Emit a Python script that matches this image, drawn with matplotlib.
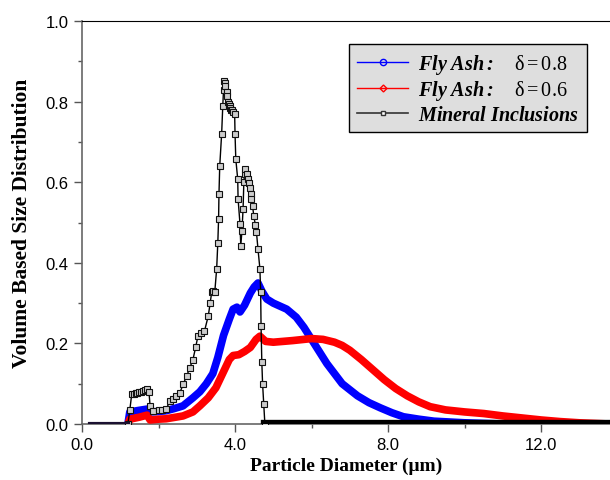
import matplotlib.pyplot as plt
import numpy as np

plt.rcParams['mathtext.fontset'] = 'custom'
plt.rcParams['mathtext.rm'] = 'Liberation Serif'
plt.rcParams['mathtext.it'] = 'Liberation Serif:italic'
plt.rcParams['mathtext.bf'] = 'Liberation Serif:bold'
plt.rcParams['mathtext.bfit'] = 'Liberation Serif:italic:bold'

# fly ash, delta = 0.8
x_b = [1.2, 1.25, 1.5, 1.7, 1.78, 2.0, 2.2, 2.4, 2.64, 2.9, 3.08, 3.25, 3.42, 3.55, 3.7, 3.85,
       3.95, 4.05, 4.13, 4.25, 4.4, 4.5, 4.6, 4.7, 4.83, 5.0, 5.35, 5.6, 5.8, 6.0, 6.2, 6.4,
       6.6, 6.8, 7.0, 7.2, 7.5, 7.8, 8.1, 8.4, 8.8, 9.2, 10.0, 11.0, 12.0, 13.8]
y_b = [0.0, 0.03, 0.034, 0.037, 0.03, 0.031, 0.033, 0.038, 0.045, 0.065, 0.08, 0.1, 0.125, 0.165,
       0.22, 0.26, 0.285, 0.29, 0.278, 0.295, 0.325, 0.34, 0.35, 0.33, 0.31, 0.3, 0.285, 0.265,
       0.24, 0.21, 0.18, 0.15, 0.125, 0.1, 0.085, 0.07, 0.053, 0.04, 0.028, 0.018, 0.012, 0.007,
       0.003, 0.0, 0.0, 0.0]

# fly ash, delta = 0.6
x_r = [1.2, 1.25, 1.5, 1.7, 1.78, 2.0, 2.2, 2.64, 2.9, 3.08, 3.3, 3.5, 3.7, 3.85, 3.95, 4.1,
       4.25, 4.4, 4.55, 4.65, 4.8, 5.0, 5.5, 6.0, 6.3, 6.6, 6.8, 7.0, 7.3, 7.6, 7.9, 8.2, 8.5,
       8.8, 9.1, 9.5, 10.0, 10.5, 11.0, 11.5, 12.0, 12.5, 13.0, 13.8]
y_r = [0.0, 0.012, 0.017, 0.022, 0.01, 0.012, 0.013, 0.02, 0.03, 0.045, 0.065, 0.09, 0.13, 0.16,
       0.17, 0.172, 0.18, 0.19, 0.21, 0.218, 0.205, 0.203, 0.207, 0.212, 0.21, 0.203, 0.195, 0.183,
       0.16, 0.135, 0.11, 0.088, 0.07, 0.055, 0.043, 0.035, 0.03, 0.026, 0.02, 0.015, 0.01, 0.006,
       0.003, 0.0]

# mineral inclusions
x_m = [1.2, 1.25, 1.3, 1.35, 1.4, 1.45, 1.5, 1.55, 1.6, 1.65, 1.7, 1.75, 1.78, 1.86, 2.0, 2.1,
       2.2, 2.3, 2.38, 2.45, 2.56, 2.65, 2.74, 2.82, 2.9, 2.97, 3.03, 3.1, 3.2, 3.3, 3.35, 3.39,
       3.43, 3.47, 3.52, 3.55, 3.57, 3.58, 3.6, 3.65, 3.68, 3.7, 3.71, 3.73, 3.75, 3.78, 3.8, 3.82,
       3.84, 3.86, 3.88, 3.9, 3.92, 3.95, 3.99, 4.0, 4.02, 4.07, 4.08, 4.13, 4.15, 4.18, 4.21, 4.23,
       4.25, 4.27, 4.3, 4.33, 4.36, 4.38, 4.41, 4.43, 4.46, 4.49, 4.53, 4.56, 4.6, 4.65, 4.67, 4.68,
       4.7, 4.72, 4.75, 4.78]
y_m = [0.0, 0.035, 0.074, 0.075, 0.076, 0.078, 0.079, 0.08, 0.083, 0.085, 0.087, 0.08, 0.045, 0.033,
       0.034, 0.035, 0.037, 0.057, 0.063, 0.07, 0.078, 0.1, 0.12, 0.14, 0.16, 0.19, 0.218, 0.225,
       0.23, 0.268, 0.3, 0.327, 0.33, 0.327, 0.385, 0.45, 0.508, 0.57, 0.64, 0.72, 0.79, 0.83,
       0.85, 0.845, 0.84, 0.825, 0.815, 0.8, 0.795, 0.79, 0.785, 0.78, 0.778, 0.775, 0.77, 0.72,
       0.657, 0.608, 0.558, 0.496, 0.442, 0.479, 0.533, 0.6, 0.62, 0.633, 0.62, 0.608, 0.597,
       0.585, 0.57, 0.558, 0.54, 0.516, 0.495, 0.476, 0.434, 0.385, 0.327, 0.243, 0.154, 0.1,
       0.05, 0.0]
x_zero_left = [0.2, 0.6, 1.0, 1.2]
x_zero_right = [4.78, 6.0, 8.0, 10.0, 12.0, 13.8]

fig = plt.figure(figsize=(6.1, 4.81), dpi=100)
ax = fig.add_axes([0.1344, 0.1164, 0.8656, 0.8378])

ax.plot(x_b, y_b, color='blue', lw=5.5, solid_capstyle='butt', solid_joinstyle='round', zorder=2)
ax.plot(x_r, y_r, color='red', lw=5.5, solid_capstyle='butt', solid_joinstyle='round', zorder=3)
ax.plot(x_m, y_m, color='black', lw=1, marker='s', ms=4, mfc='#cccccc', mec='#111111', mew=0.8, zorder=4)
ax.plot(x_zero_left, [0] * len(x_zero_left), color='#1a1030', lw=3, zorder=4)
ax.plot(x_zero_right, [0] * len(x_zero_right), color='black', lw=6, zorder=4)

# legend proxies
h1, = ax.plot([], [], color='blue', lw=1, marker='o', ms=4.5, mfc='none', mec='blue')
h2, = ax.plot([], [], color='red', lw=1, marker='D', ms=3.5, mfc='none', mec='red')
h3, = ax.plot([], [], color='#333333', lw=1.2, marker='s', ms=3.5, mfc='white', mec='#333333')
leg = ax.legend([h1, h2, h3],
                [r'$\mathbfit{Fly\ Ash:}\quad\;\mathrm{δ = 0.8}$',
                 r'$\mathbfit{Fly\ Ash:}\quad\;\mathrm{δ = 0.6}$',
                 r'$\mathbfit{Mineral\ Inclusions}$'],
                loc='upper right', bbox_to_anchor=(0.956, 0.943), borderaxespad=0, fontsize=14.5,
                fancybox=False, framealpha=1, handlelength=2.5, borderpad=0.4,
                labelspacing=0.12, handletextpad=0.5)
leg.get_frame().set_facecolor('#dedede')
leg.get_frame().set_edgecolor('black')
leg.get_frame().set_linewidth(1.0)

ax.set_xlim(0, 13.8)
ax.set_ylim(0, 1.0)
ax.set_xticks([0, 4, 8, 12])
ax.set_xticklabels(['0.0', '4.0', '8.0', '12.0'])
ax.set_xticks([2, 6, 10], minor=True)
ax.set_yticks([0, 0.2, 0.4, 0.6, 0.8, 1.0])
ax.set_yticklabels(['0.0', '0.2', '0.4', '0.6', '0.8', '1.0'])
ax.set_yticks(np.arange(0.1, 1.0, 0.2), minor=True)
ax.tick_params(which='major', direction='out', length=6, width=1, labelsize=12, color='#555555')
ax.tick_params(which='minor', direction='out', length=3, width=1, color='#555555')
for lab in ax.get_xticklabels() + ax.get_yticklabels():
    lab.set_fontfamily('Liberation Sans')

ax.spines['right'].set_visible(False)
ax.spines['top'].set_color('black')
ax.spines['left'].set_color('#666666')
ax.spines['bottom'].set_color('#666666')
ax.spines['left'].set_linewidth(1.2)
ax.spines['bottom'].set_linewidth(1.2)

ax.set_xlabel('Particle Diameter (μm)', fontfamily='Liberation Serif', fontweight='bold', fontsize=14, labelpad=3)
ax.set_ylabel('Volume Based Size Distribution', fontfamily='Liberation Serif', fontweight='bold', fontsize=15.5, labelpad=10)

fig.savefig('out.png', dpi=100)
